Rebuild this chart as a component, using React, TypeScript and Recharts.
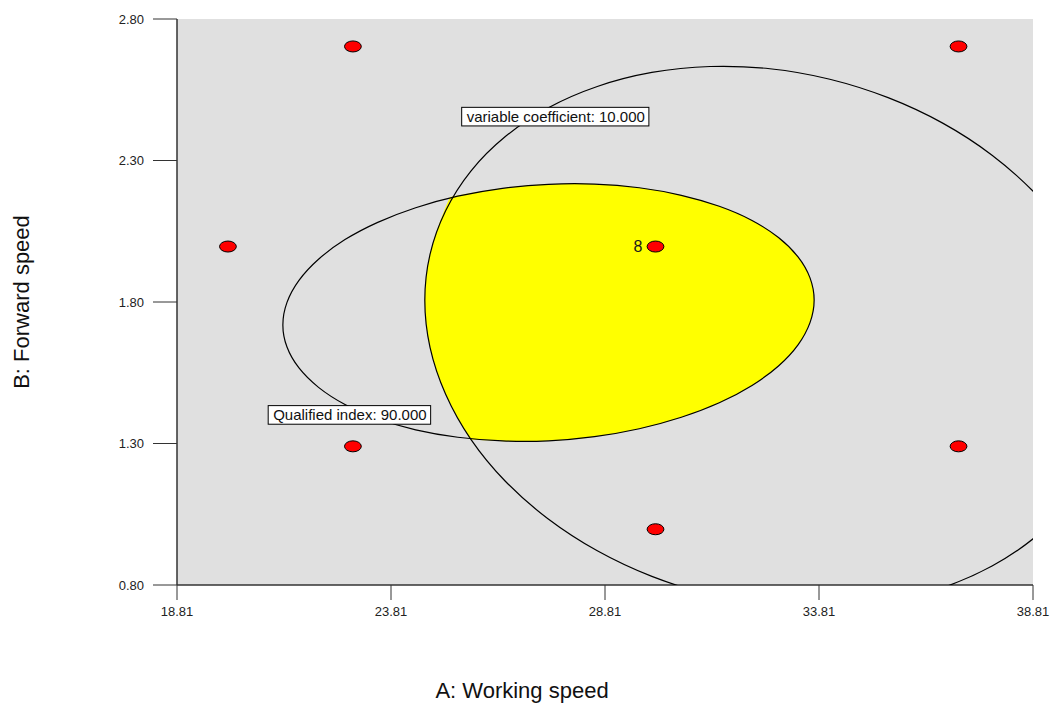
import React, { useLayoutEffect, useRef, useState } from 'react';
import { ScatterChart, Scatter, XAxis, YAxis, CartesianGrid } from 'recharts';

const FONT = '"Liberation Sans", Arial, sans-serif';

// axis ticks
const xTicks = [18.81, 23.81, 28.81, 33.81, 38.81];
const yTicks = [0.8, 1.3, 1.8, 2.3, 2.8];

// design runs (A: working speed, B: forward speed)
const runA = [22.92, 37.07, 20.0, 29.99, 22.92, 37.07, 29.99];
const runB = [2.703, 2.703, 1.996, 1.996, 1.29, 1.29, 0.997];
const runTags = ['', '', '', '8', '', '', ''];

// contour "variable coefficient: 10.000" (runs off the plot right / bottom)
const cvContour: [number, number][] = [
  [40.77, 1.546], [40.65, 1.382], [40.28, 1.228], [39.69, 1.087], [38.88, 0.964], [37.88, 0.863],
  [36.72, 0.786], [35.44, 0.737], [34.07, 0.716], [32.66, 0.724], [31.26, 0.761], [29.89, 0.826],
  [28.61, 0.917], [27.45, 1.031], [26.45, 1.164], [25.64, 1.313], [25.05, 1.473], [24.68, 1.64],
  [24.56, 1.807], [24.68, 1.97], [25.05, 2.125], [25.64, 2.266], [26.45, 2.388], [27.45, 2.49],
  [28.61, 2.566], [29.89, 2.616], [31.26, 2.637], [32.66, 2.629], [34.07, 2.592], [35.44, 2.526],
  [36.72, 2.436], [37.88, 2.322], [38.88, 2.188], [39.69, 2.039], [40.28, 1.879], [40.65, 1.713],
];

// contour "Qualified index: 90.000"
const qiContour: [number, number][] = [
  [33.73, 1.807], [33.63, 1.727], [33.35, 1.648], [32.89, 1.573], [32.27, 1.504], [31.5, 1.442],
  [30.61, 1.391], [29.62, 1.35], [28.57, 1.322], [27.49, 1.307], [26.41, 1.307], [25.36, 1.32],
  [24.37, 1.346], [23.48, 1.386], [22.71, 1.436], [22.09, 1.497], [21.63, 1.566], [21.35, 1.64],
  [21.25, 1.719], [21.35, 1.799], [21.63, 1.877], [22.09, 1.952], [22.71, 2.022], [23.48, 2.083],
  [24.37, 2.135], [25.36, 2.176], [26.41, 2.204], [27.49, 2.218], [28.57, 2.219], [29.62, 2.206],
  [30.61, 2.179], [31.5, 2.14], [32.27, 2.09], [32.89, 2.029], [33.35, 1.96], [33.63, 1.886],
];

// overlay (feasible) region: inside both contours; corner points repeated so the spline keeps them sharp
const feasible: [number, number][] = [
  [25.19, 2.171], [25.19, 2.171], [25.19, 2.171],
  [25.36, 2.176], [26.41, 2.204], [27.49, 2.218], [28.57, 2.219], [29.62, 2.206],
  [30.61, 2.179], [31.5, 2.14], [32.27, 2.09], [32.89, 2.029], [33.35, 1.96], [33.63, 1.886],
  [33.73, 1.807], [33.63, 1.727], [33.35, 1.648], [32.89, 1.573], [32.27, 1.504], [31.5, 1.442],
  [30.61, 1.391], [29.62, 1.35], [28.57, 1.322], [27.49, 1.307], [26.41, 1.307],
  [25.66, 1.314], [25.66, 1.314], [25.66, 1.314],
  [25.05, 1.473], [24.68, 1.64], [24.56, 1.807], [24.68, 1.97], [25.05, 2.125],
];

// contour label flags
const tagText = ['variable coefficient: 10.000', 'Qualified index: 90.000'];
const tagA = [27.66, 22.85];
const tagB = [2.455, 1.401];

const toXY = (pts: [number, number][]) => pts.map(([x, y]) => ({ x, y }));
const runs = runA.map((x, i) => ({ x, y: runB[i], tag: runTags[i] }));
const tags = tagText.map((text, i) => ({ x: tagA[i], y: tagB[i], text }));

const Nothing = () => <g />;

function RunMarker(props: any) {
  const { cx, cy, payload } = props;
  return (
    <g>
      {payload.tag ? (
        <text x={cx - 13} y={cy + 5.6} textAnchor="end" fontSize={16} fontFamily={FONT} fill="#1a1a1a">
          {payload.tag}
        </text>
      ) : null}
      <ellipse cx={cx} cy={cy} rx={8.4} ry={5.5} fill="#ff0000" stroke="#000" strokeWidth={1} />
    </g>
  );
}

function ContourTag({ cx, cy, text }: { cx: number; cy: number; text: string }) {
  const ref = useRef<SVGTextElement>(null);
  const [w, setW] = useState(text.length * 6.6);
  useLayoutEffect(() => {
    if (ref.current) setW(ref.current.getBBox().width);
  }, [text]);
  return (
    <g>
      <rect x={cx - w / 2 - 5} y={cy - 9.3} width={w + 9} height={18.6} fill="#fff" stroke="#000" strokeWidth={1} />
      <text ref={ref} x={cx} y={cy + 5.4} textAnchor="middle" fontSize={15} fontFamily={FONT} fill="#111">
        {text}
      </text>
    </g>
  );
}

const tickStyle = { fontSize: 13, fill: '#222', fontFamily: FONT };
const axisStroke = { stroke: '#333', strokeWidth: 1.5 };

export default function App() {
  return (
    <div style={{ position: 'absolute', left: 0, top: 0, width: 1051, height: 704, background: '#fff' }}>
      <ScatterChart width={1051} height={704} margin={{ top: 19, right: 18, bottom: 0, left: 0 }}>
        <CartesianGrid fill="#e0e0e0" stroke="none" horizontal={false} vertical={false} />
        <XAxis
          type="number"
          dataKey="x"
          domain={[18.81, 38.81]}
          ticks={xTicks}
          allowDataOverflow
          height={119}
          tickSize={15}
          tickMargin={7}
          tick={tickStyle}
          tickLine={{ stroke: '#333' }}
          axisLine={axisStroke}
          tickFormatter={(v: number) => v.toFixed(2)}
          label={{
            content: ({ viewBox }: any) => (
              <text x={viewBox.x + viewBox.width / 2 - 83} y={viewBox.y + 113} textAnchor="middle"
                fontSize={22} fontFamily={FONT} fill="#111">
                A: Working speed
              </text>
            ),
          }}
        />
        <YAxis
          type="number"
          dataKey="y"
          domain={[0.8, 2.8]}
          ticks={yTicks}
          allowDataOverflow
          width={177}
          tickSize={24}
          tickMargin={9}
          tick={tickStyle}
          tickLine={{ stroke: '#333' }}
          axisLine={axisStroke}
          tickFormatter={(v: number) => v.toFixed(2)}
          label={{
            content: ({ viewBox }: any) => {
              const lx = viewBox.x + 28.5;
              const ly = viewBox.y + viewBox.height / 2;
              return (
                <text x={lx} y={ly} transform={`rotate(-90, ${lx}, ${ly})`} textAnchor="middle"
                  fontSize={22} fontFamily={FONT} fill="#111">
                  B: Forward speed
                </text>
              );
            },
          }}
        />
        <XAxis xAxisId="top" orientation="top" type="number" domain={[18.81, 38.81]} height={0}
          tick={false} tickLine={false} axisLine={axisStroke} />
        <YAxis yAxisId="right" orientation="right" type="number" domain={[0.8, 2.8]} width={0}
          tick={false} tickLine={false} axisLine={axisStroke} />

        <Scatter data={toXY(feasible)} line={{ fill: '#ffff00', stroke: 'none' }} lineJointType="basisClosed"
          shape={Nothing} isAnimationActive={false} />
        <Scatter data={toXY(qiContour)} line={{ stroke: '#000', strokeWidth: 1.2 }} lineJointType="basisClosed"
          shape={Nothing} isAnimationActive={false} />
        <Scatter data={toXY(cvContour)} line={{ stroke: '#000', strokeWidth: 1.2 }} lineJointType="basisClosed"
          shape={Nothing} isAnimationActive={false} />
        <Scatter data={runs} shape={(p: any) => <RunMarker {...p} />} isAnimationActive={false} />
        <Scatter data={tags} shape={(p: any) => <ContourTag cx={p.cx} cy={p.cy} text={p.payload.text} />}
          isAnimationActive={false} />
      </ScatterChart>
    </div>
  );
}
